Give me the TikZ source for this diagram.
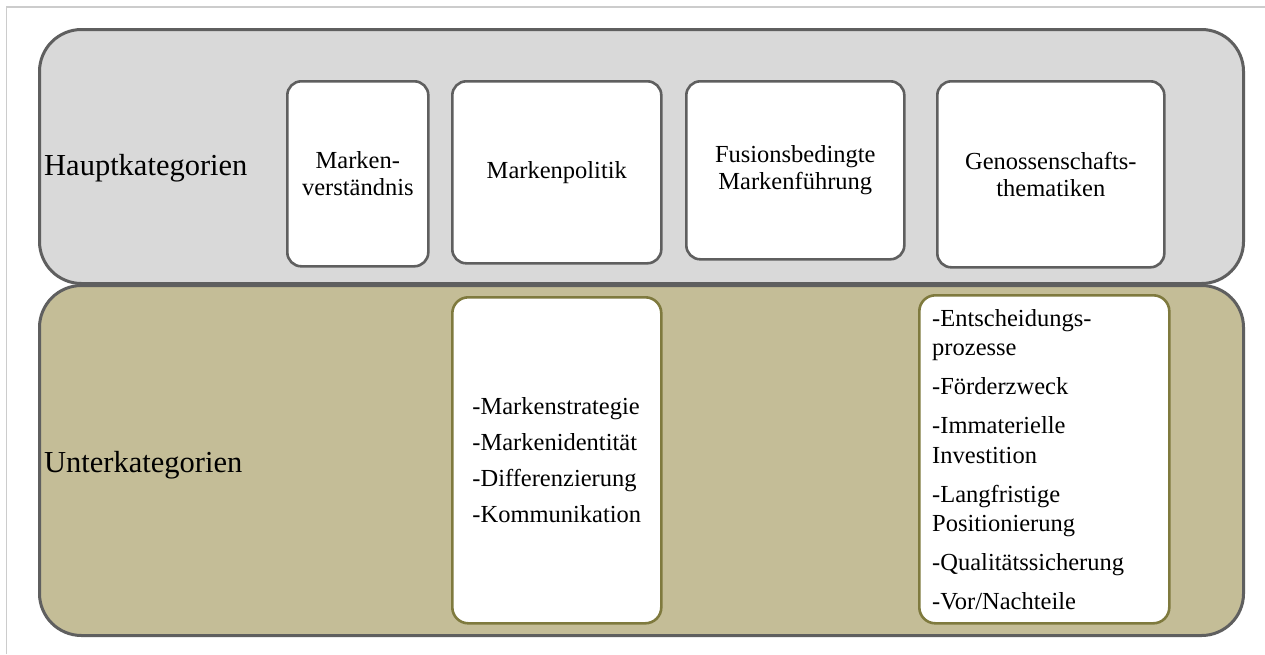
\documentclass[tikz,border=0pt]{standalone}
\usepackage{fontspec}
\setmainfont{Liberation Serif}
\definecolor{topfill}{HTML}{D9D9D9}
\definecolor{botfill}{HTML}{C4BD97}
\definecolor{darkline}{HTML}{5F5F5F}
\definecolor{oliveline}{HTML}{7F7A3E}
\definecolor{frameline}{HTML}{CCCCCC}
\begin{document}
\begin{tikzpicture}[x=1pt,y=-1pt,
  outerbox/.style={draw=darkline,line width=3pt,rounded corners=42pt,anchor=north west,inner sep=0pt},
  hbox/.style={draw=darkline,fill=white,line width=2.6pt,rounded corners=14pt,anchor=north west,inner sep=0pt,align=center,font=\fontsize{24.5}{27}\selectfont},
  ubox/.style={draw=oliveline,fill=white,line width=2.6pt,rounded corners=16pt,anchor=north west,inner sep=0pt},
  biglabel/.style={anchor=west,inner sep=0pt,font=\fontsize{30.5}{34}\selectfont},
  listtext/.style={inner sep=0pt,align=left}
]
\useasboundingbox (0,0) rectangle (1265,654);
\fill[white] (0,0) rectangle (1265,654);
\coordinate (fbl) at (6.5,654);
\coordinate (ftl) at (6.5,7);
\coordinate (ftr) at (1265,7);
\draw[frameline,line width=1.2pt] (fbl) -- (ftl) -- (ftr);

% outer bands
\node[outerbox,fill=topfill,minimum width=1204pt,minimum height=254pt] (haupt) at (38,28) {};
\node[outerbox,fill=botfill,minimum width=1204pt,minimum height=350pt] (unter) at (38,284) {};

\node[biglabel] (hl) at (44,168) {Hauptkategorien};
\node[biglabel] (ul) at (44,465) {Unterkategorien};

% main categories
\node[hbox,minimum width=141pt,minimum height=185pt] (mv) at (286,80) {Marken-\\verständnis};
\node[hbox,minimum width=209pt,minimum height=182pt] (mp) at (451,80) {Markenpolitik};
\node[hbox,minimum width=218pt,minimum height=178pt] (fm) at (685,80) {Fusionsbedingte\\Markenführung};
\node[hbox,minimum width=227pt,minimum height=186pt] (gt) at (936,80) {Genossenschafts-\\thematiken};

% sub categories
\node[ubox,minimum width=209pt,minimum height=326pt] (ml) at (451,296) {};
\node[listtext,font=\fontsize{24.5}{36}\selectfont] (mlt) at (ml.center)
  {-Markenstrategie\\-Markenidentität\\-Differenzierung\\-Kommunikation};

\node[ubox,minimum width=250pt,minimum height=328pt] (gl) at (918,294) {};
\node[listtext,anchor=north west,font=\fontsize{24.5}{29.5}\selectfont] (glt)
  at ([xshift=14pt,yshift=-15pt]gl.north west)
  {-Entscheidungs-\\prozesse\\[9.5pt]-Förderzweck\\[9.5pt]-Immaterielle\\Investition\\[9.5pt]-Langfristige\\Positionierung\\[9.5pt]-Qualitätssicherung\\[9.5pt]-Vor/Nachteile};
\end{tikzpicture}
\end{document}
